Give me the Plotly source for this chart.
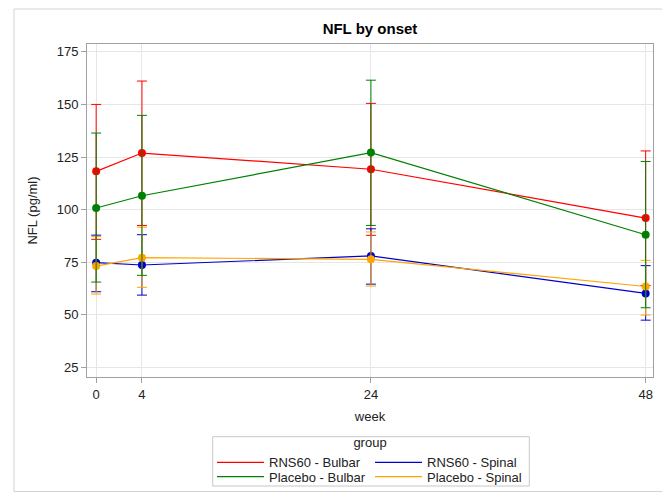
import plotly.graph_objects as go

weeks = [0, 4, 24, 48]
tick_vals = [0, 4, 24, 48]
y_ticks = [25, 50, 75, 100, 125, 150, 175]

series_names = ["RNS60 - Bulbar", "RNS60 - Spinal", "Placebo - Bulbar", "Placebo - Spinal"]

rns60_bulbar = [118.2, 126.9, 119.2, 96.0]
rns60_bulbar_hi = [150.0, 161.1, 150.5, 127.9]
rns60_bulbar_lo = [85.9, 92.5, 87.8, 64.0]

rns60_spinal = [74.8, 73.7, 78.0, 60.2]
rns60_spinal_hi = [87.9, 88.1, 90.9, 73.4]
rns60_spinal_lo = [61.0, 59.4, 64.6, 47.5]

placebo_bulbar = [100.8, 106.6, 127.1, 88.1]
placebo_bulbar_hi = [136.4, 144.8, 161.5, 122.9]
placebo_bulbar_lo = [65.6, 68.8, 92.5, 53.4]

placebo_spinal = [73.2, 77.2, 76.4, 63.5]
placebo_spinal_hi = [87.2, 91.7, 89.4, 75.9]
placebo_spinal_lo = [59.9, 63.1, 63.7, 49.9]

data = {
    "RNS60 - Bulbar": (rns60_bulbar, rns60_bulbar_hi, rns60_bulbar_lo, "#FF0000", "legend"),
    "RNS60 - Spinal": (rns60_spinal, rns60_spinal_hi, rns60_spinal_lo, "#0000CC", "legend"),
    "Placebo - Bulbar": (placebo_bulbar, placebo_bulbar_hi, placebo_bulbar_lo, "#008000", "legend2"),
    "Placebo - Spinal": (placebo_spinal, placebo_spinal_hi, placebo_spinal_lo, "#FFA500", "legend2"),
}

FONT = "Arial, Liberation Sans, sans-serif"
# page body has an 8px margin: the figure is sized to fill the rest of the window
W, H = 662, 487
PL, PB, PW, PH = 79, 118, 566, 333   # plot area (fig px)


def px_x(fx):
    return (fx - PL) / PW


def px_y(fy):
    return (H - PB - fy) / PH


fig = go.Figure()

for name in series_names:
    vals, hi, lo, col, leg = data[name]
    fig.add_trace(go.Scatter(
        x=weeks, y=vals, mode="lines", name=name, legend=leg,
        line=dict(color=col, width=1.2), hoverinfo="skip",
    ))

for name in ["RNS60 - Bulbar", "RNS60 - Spinal", "Placebo - Spinal", "Placebo - Bulbar"]:
    vals, hi, lo, col, leg = data[name]
    fig.add_trace(go.Scatter(
        x=weeks, y=vals, mode="markers", name=name, showlegend=False,
        marker=dict(color=col, size=8),
        error_y=dict(type="data", symmetric=False,
                     array=[h - v for h, v in zip(hi, vals)],
                     arrayminus=[v - l for v, l in zip(vals, lo)],
                     color=col, thickness=1, width=5),
    ))

legend_common = dict(orientation="h", xref="container", yref="container",
                     xanchor="left", yanchor="top",
                     borderwidth=0, bgcolor="rgba(0,0,0,0)",
                     itemwidth=47, entrywidth=96, entrywidthmode="pixels",
                     font=dict(size=13))

fig.update_layout(
    width=W, height=H,
    margin=dict(l=PL, r=17, t=36, b=PB, autoexpand=False),
    paper_bgcolor="white", plot_bgcolor="white",
    font=dict(family=FONT, size=13, color="#222222"),
    title=dict(text="<b>NFL by onset</b>", x=0.5, xref="paper", xanchor="center",
               y=1 - 21 / H, yanchor="middle", font=dict(size=15, color="black")),
    xaxis=dict(range=[-0.8, 48.64], tickvals=tick_vals, ticktext=[str(v) for v in tick_vals],
               showgrid=True, gridcolor="#e6e6e6", gridwidth=1,
               showline=True, linecolor="#a0a0a0", linewidth=1, mirror=True,
               ticks="outside", ticklen=5, tickcolor="#a0a0a0",
               zeroline=False, automargin=False,
               title=dict(text="week", standoff=11, font=dict(size=13))),
    yaxis=dict(range=[20.5, 178.7], tickvals=y_ticks,
               showgrid=True, gridcolor="#e6e6e6", gridwidth=1,
               showline=True, linecolor="#a0a0a0", linewidth=1, mirror=True,
               ticks="outside", ticklen=5, tickcolor="#a0a0a0",
               zeroline=False, automargin=False,
               title=dict(text="NFL (pg/ml)", standoff=16, font=dict(size=13))),
    legend=dict(**legend_common, x=204 / W, y=1 - 422.5 / H,
                title=dict(text="group", side="top center", font=dict(size=13))),
    legend2=dict(**legend_common, x=204 / W, y=1 - 453.7 / H),
    showlegend=True,
)

# outer frame of the graph
fig.add_shape(type="rect", xref="paper", yref="paper",
              x0=px_x(6), x1=px_x(656), y0=px_y(483.5), y1=px_y(1),
              line=dict(color="#d3d3d3", width=1), fillcolor="rgba(0,0,0,0)", layer="below")
# legend frame
fig.add_shape(type="rect", xref="paper", yref="paper",
              x0=px_x(204.7), x1=px_x(521.3), y0=px_y(478), y1=px_y(428.7),
              line=dict(color="#c8c8c8", width=1), fillcolor="white", layer="below")

fig.write_html("out.html")
